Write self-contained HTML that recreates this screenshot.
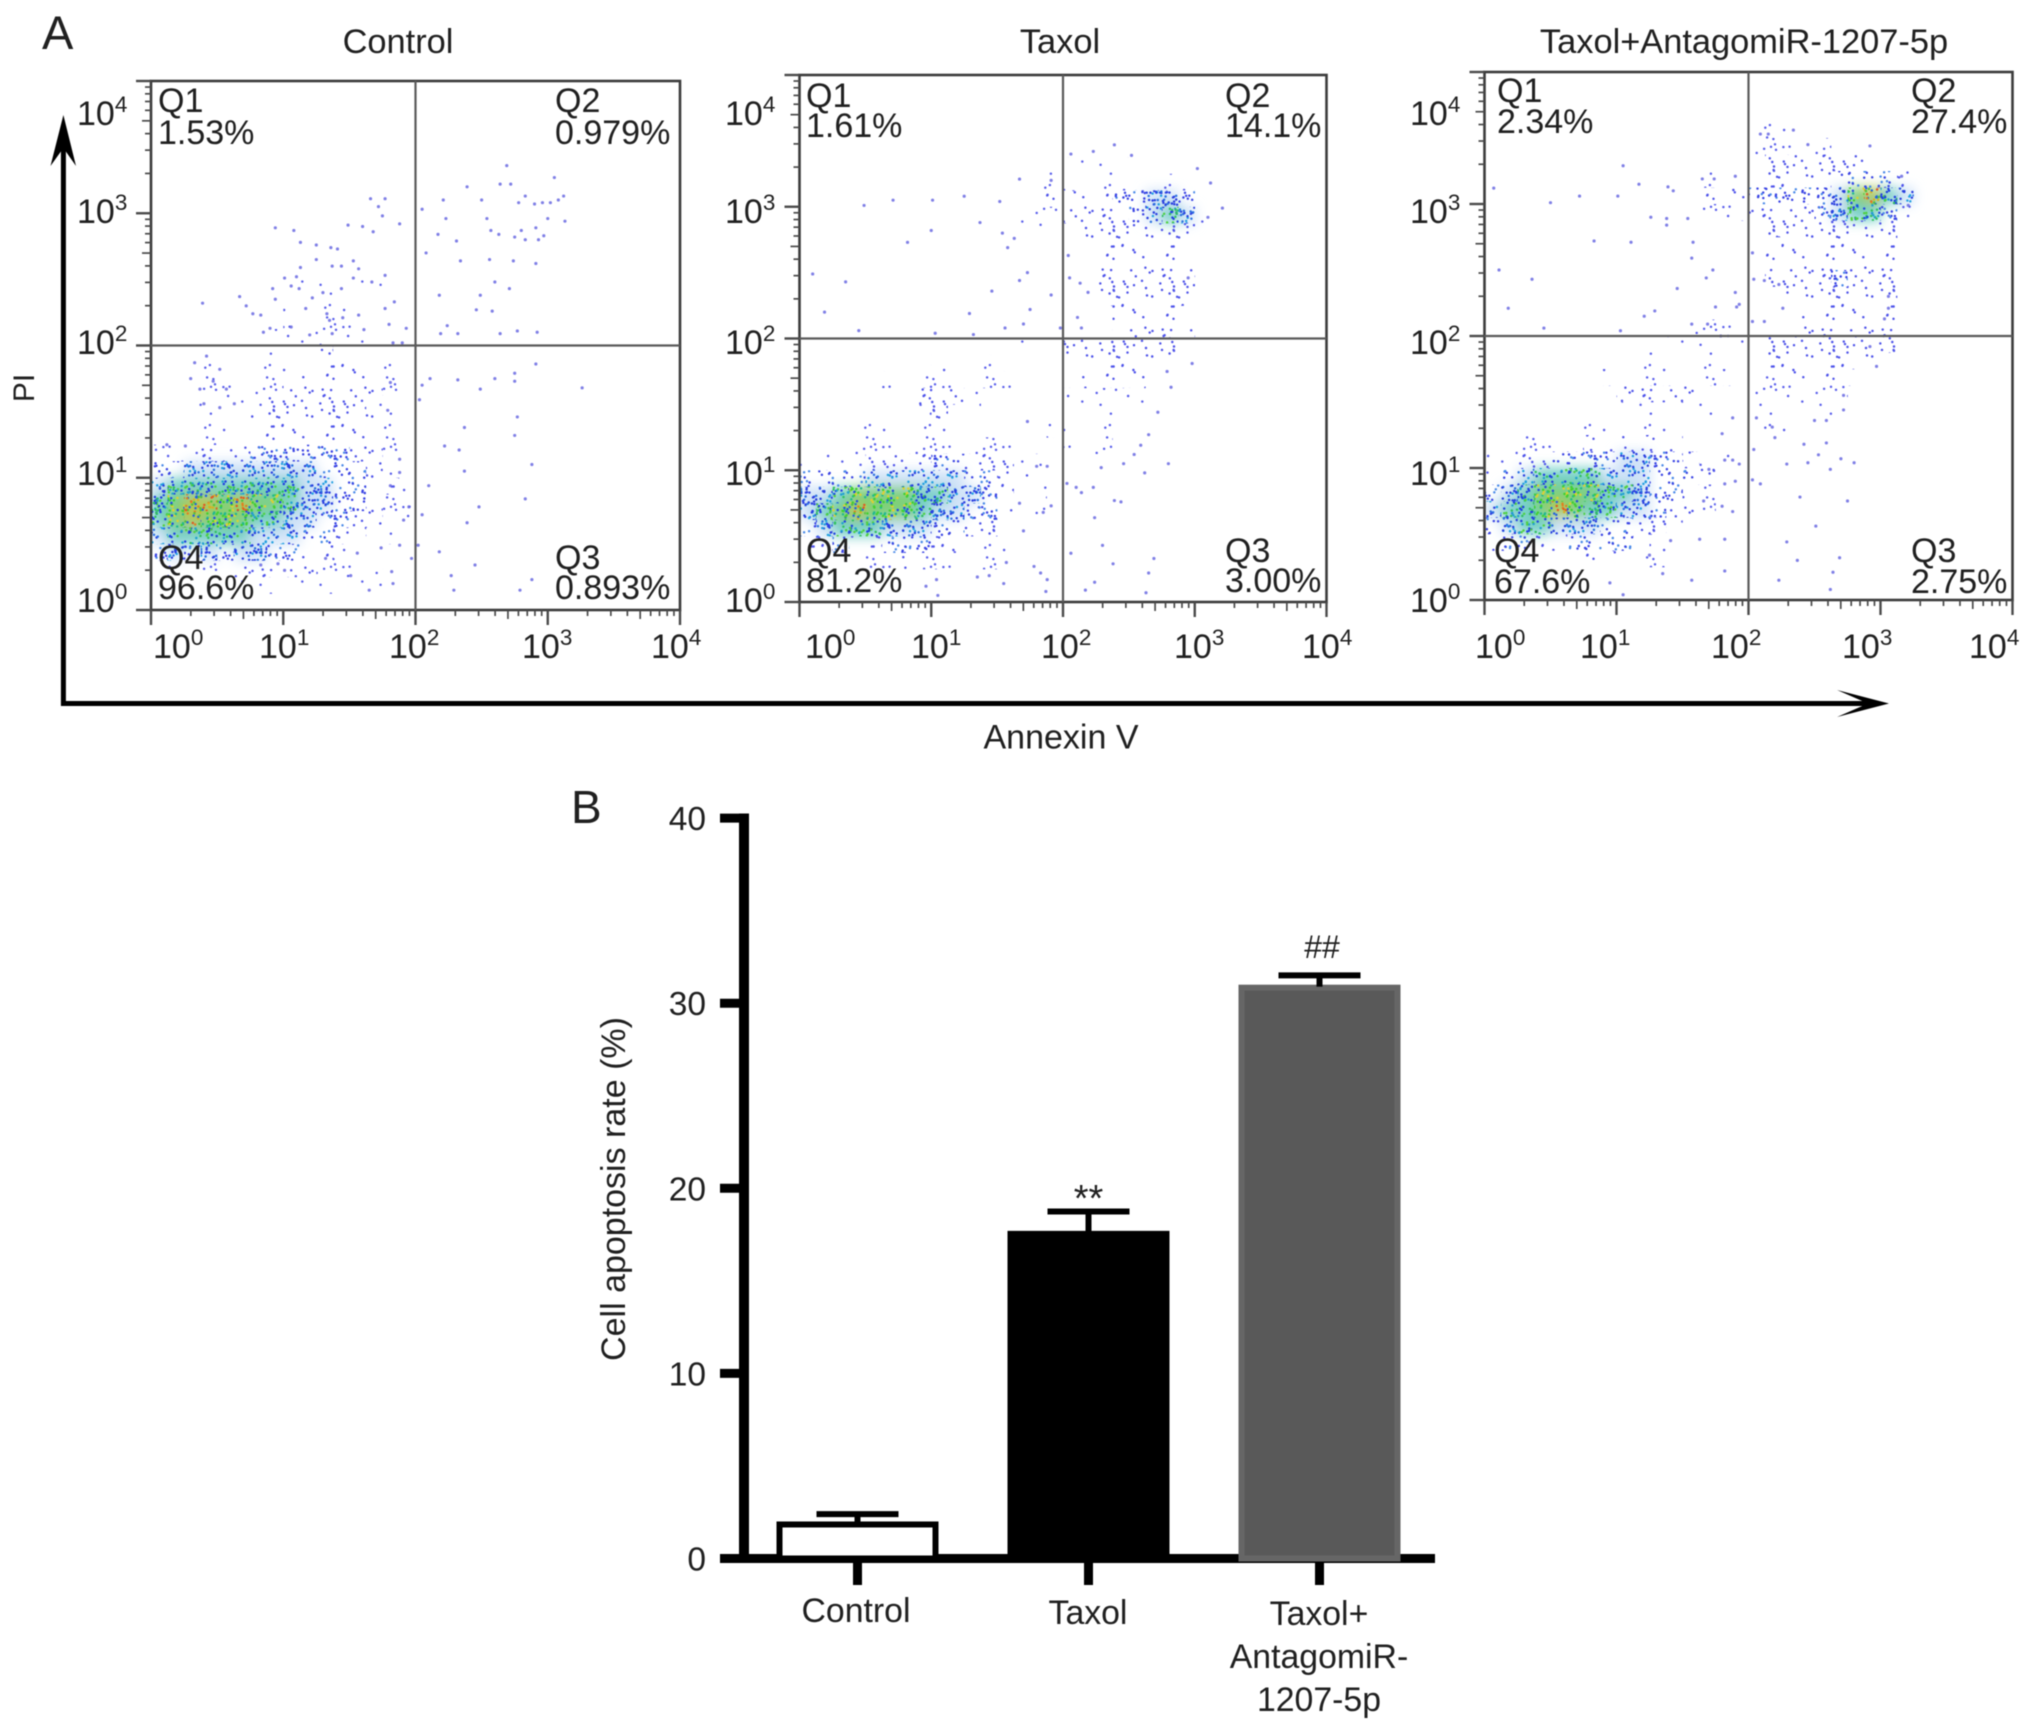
<!DOCTYPE html>
<html lang="en"><head><meta charset="utf-8"><title>Cell apoptosis flow cytometry and bar chart</title>
<style>
html,body{margin:0;padding:0;background:#fff}
svg{display:block;filter:blur(.55px)}
text{font-family:"Liberation Sans",Arial,sans-serif;fill:#202020}
</style></head><body>
<svg id="fig" xmlns="http://www.w3.org/2000/svg" width="2032" height="1729" viewBox="0 0 2032 1729">
<defs id="defs"></defs>
<rect width="2032" height="1729" fill="#fff"/>
<text x="42" y="49" font-size="47">A</text>
<text x="571" y="823" font-size="46">B</text>
<text x="398" y="53" font-size="34.4" text-anchor="middle">Control</text>
<text x="1060" y="53" font-size="34.4" text-anchor="middle">Taxol</text>
<text x="1744" y="53" font-size="34.4" text-anchor="middle">Taxol+AntagomiR-1207-5p</text>
<text transform="translate(34,388) rotate(-90)" font-size="30" text-anchor="middle">PI</text>
<text x="1061" y="748.5" font-size="34" text-anchor="middle">Annexin V</text>
<g id="plots"></g>
<g font-size="34">
<text x="158" y="112">Q1</text><text x="158" y="144">1.53%</text>
<text x="555" y="112">Q2</text><text x="555" y="144">0.979%</text>
<text x="158" y="569">Q4</text><text x="158" y="599">96.6%</text>
<text x="555" y="569">Q3</text><text x="555" y="599">0.893%</text>
</g>
<g font-size="34">
<text x="806" y="107">Q1</text><text x="806" y="137">1.61%</text>
<text x="1225" y="107">Q2</text><text x="1225" y="137">14.1%</text>
<text x="806" y="562">Q4</text><text x="806" y="592">81.2%</text>
<text x="1225" y="562">Q3</text><text x="1225" y="592">3.00%</text>
</g>
<g font-size="34">
<text x="1497" y="102">Q1</text><text x="1497" y="133">2.34%</text>
<text x="1911" y="102">Q2</text><text x="1911" y="133">27.4%</text>
<text x="1494" y="562">Q4</text><text x="1494" y="593">67.6%</text>
<text x="1911" y="562">Q3</text><text x="1911" y="593">2.75%</text>
</g>
<g>
<line x1="63.4" y1="706" x2="63.4" y2="135" stroke="#000" stroke-width="5"/>
<path d="M63.4 115 L76 166 L63.4 148 L50.5 166 Z" fill="#000"/>
</g>
<g>
<line x1="61" y1="703.5" x2="1872" y2="703.5" stroke="#000" stroke-width="5"/>
<path d="M1889 703.5 L1837 690 L1868 703.5 L1837 717 Z" fill="#000"/>
</g>
<g id="bars"></g>
<text transform="translate(625,1189) rotate(-90)" font-size="34" text-anchor="middle">Cell apoptosis rate (%)</text>
<text x="1088.5" y="1211" font-size="38" text-anchor="middle">**</text>
<text x="1322" y="958" font-size="32" text-anchor="middle">##</text>
<g font-size="33.8" text-anchor="middle">
<text x="856" y="1622">Control</text>
<text x="1088" y="1624">Taxol</text>
<text x="1319" y="1625">Taxol+</text>
<text x="1319" y="1668">AntagomiR-</text>
<text x="1319" y="1711">1207-5p</text>
</g>
</svg>
<script>
// ---------- Panel B data ----------
const barCategories = ['control', 'taxol', 'combination'];
const barMeans = [2.0, 17.7, 31.0];
const barUppers = [2.4, 18.75, 31.5];
const barTicks = [0, 10, 20, 30, 40];

// ---------- Panel A axis data ----------
const tickBase = '10';
const tickExponents = ['0', '1', '2', '3', '4'];
const gateDecade = 2;

// ---------- Individual sparse events (log10 Annexin V / log10 PI) ----------
const controlEventsX = [2.69,3.05,2.39,2.64,2.72,2.83,2.78,2.9,2.96,3.02,3.08,3.12,3.13,3,2.91,2.8,2.75,2.83,2.93,2.97,2.54,2.57,2.63,2.21,2.5,2.05,2.23,2.17,2.31,2.08,2.34,2.56,2.74,2.91,2.6,2.71,2.18,2.49,2.46,2.58,2.24,2.32,2.19,2.64,2.77,2.92,3.26,2.91,2.75,2.75,2.6,2.49,2.32,2.11,2.05,2.03,2.77,2.75,2.37,2.33,2.22,2.88,2.37,2.1,2.83,2.48,2.39,2.18,2.45,2.27,2.29,2.79,2.88,2.05,2.02,1.66,1.77,1.72,1.75,1.88,1.6,1.49,1.68,.94,1.08,1.13,1.36,1.41,1.25,1.25,1.13,1.37,1.44,1.53,1.57,1.01,1.1,1.53,1.67,1.77,1.06,1.12,.92,.94,1.22,1.3,1.44,1.84,1.77,.39,.67,.72,.77,.83,1.17,1.33,1.45,1.57,1.06,.9,1.35,1.37,1.61,1.8,1.93,.85,1.2,1.83,1.9,.33,.42,.52,.3,.47,.37,.57,.4,.52,.63,.26,.12,1.65,1.83,1.82,1.51,1.97,1.56,1.74,1.88,1.01,.83,.96,1.32,1.91,1.95,1.81,1.88,1.88,1.81,1.79];
const controlEventsY = [3.36,3.27,3.2,3.22,3.22,3.13,3.08,3.07,3.08,3.08,3.1,3.13,2.94,2.96,2.89,2.87,2.82,2.8,2.8,2.83,2.96,2.87,2.84,3.1,3.1,3.03,2.96,2.84,2.79,2.7,2.64,2.65,2.64,2.62,2.48,2.43,2.38,2.38,2.27,2.26,2.15,2.09,2.09,2.09,2.11,2.1,1.68,1.86,1.79,1.73,1.75,1.67,1.74,1.75,1.7,1.59,1.46,1.32,1.38,1.21,1.24,1.1,1.05,.94,.84,.78,.66,.44,.34,.26,.15,.15,.23,.72,.49,3.11,3.11,3.05,2.98,2.92,2.9,2.91,2.86,2.89,2.87,2.78,2.74,2.73,2.76,2.65,2.59,2.6,2.6,2.64,2.58,2.51,2.52,2.51,2.48,2.53,2.45,2.43,2.43,2.35,2.36,2.4,2.43,2.33,2.28,2.32,2.37,2.3,2.24,2.23,2.28,2.24,2.21,2.23,2.14,2.13,2.19,2.09,2.12,2.16,2.13,2.1,2.08,2.02,2.02,1.87,1.92,1.82,1.75,1.73,1.67,1.67,1.56,1.53,1.56,1.24,1.25,.15,.2,.29,.26,.39,.43,.47,.49,.3,.34,.35,.39,.68,.78,.94,1.14,1.04,1.72,1.51];

const taxolEventsX = [.1,.35,.19,.45,.49,.71,1.01,1.25,1.37,1,.82,1.52,1.67,1.91,1.54,1.58,1.63,1.73,1.67,1.46,1.29,1.03,1.32,1.75,1.7,1.56,1.91,1.98,2.06,2.23,2.39,2.52,3.02,3.12,3.21,3.1,2.04,2.05,2.13,2.19,2.11,2.14,2.95,2.98,2.79,2.82,2.72,2.65,2.59,2.54,2.8,2.62,2.46,2.29,2.23,2.03,2.1,2.14,2.39,2.44,2.24,2.3,2.06,2.38,2.69,2.65,2.24,2.17,2.63,1.04,.96,1.05,1.35,1.44,1.55,1.78,1.83,1.88,1.87,1.57,1.7,1.85,1.91,1.67,1.8,1.88,1.73];
const taxolEventsY = [2.49,2.43,2.2,2.06,3.01,3.05,3.05,3.08,2.88,2.82,2.73,3.04,3.21,3.2,2.8,2.69,2.76,2.5,2.44,2.36,2.19,2.04,2.03,2.22,2.11,2.08,2.33,2.08,3.4,3.42,3.47,3.39,3.29,3.18,2.99,2.92,2.63,2.46,2.42,2.35,2.16,2.08,2.46,1.81,1.75,1.63,1.44,1.27,1.19,1.12,1.05,.98,1.05,1.02,.87,.9,.87,.83,.77,.76,.64,.43,.37,.29,.33,.22,.15,.09,.07,.17,.12,.05,.19,.2,.14,.27,.22,.17,.08,.3,.54,.68,.73,.75,1.03,1.03,1.37];

const comboEventsX = [.07,.5,.72,1.01,1.05,1.17,1.26,.83,1.11,.11,.36,.18,.45,1.03,1.21,1.29,1.46,1.39,1.43,1.38,1.38,1.54,1.58,1.57,1.68,1.73,1.9,1.75,1.91,1.57,1.69,1.79,1.93,1.65,1.74,1.9,2.09,2.15,2.34,2.45,2.92,3.16,3.21,3.06,3.06,3.03,2.03,2.04,2.12,2.23,2.26,2.12,2.03,2.97,2.92,2.72,2.72,2.59,2.5,2.42,2.59,2.53,2.45,2.62,2.7,2.8,2.29,2.18,2.2,2.06,2.04,2.03,2.09,2.39,2.75,2.51,2.29,2.37,2.69,2.64,2.23,2.62,1.82,1.35,1.57,.95,1.05,1.25,1.82,1.63,1.41,1.88,1.8,1.66,1.82,1.9,1.82,1.88,1.93,1.8,1.88,1.7];
const comboEventsY = [3.12,3.01,3.06,3.06,3.29,3.15,2.9,2.72,2.71,2.5,2.43,2.21,2.06,2.04,2.15,2.19,2.36,3.13,3.1,2.89,2.84,2.89,2.71,2.59,2.44,2.5,2.33,2.22,2.22,2.09,2.09,2,2.24,3.19,3.19,3.21,3.53,3.53,3.56,3.45,3.44,3.21,2.99,2.3,2.21,2.13,2.63,2.43,2.42,2.39,2.21,2.11,2.11,1.77,1.92,1.55,1.44,1.36,1.36,1.18,1.19,1.1,1.04,.99,1.07,1.04,1.03,1.31,1.23,1.38,1.14,.91,.88,.78,.75,.56,.44,.3,.32,.21,.15,.08,.22,.2,.15,.13,.04,.34,.46,.46,.45,.67,.71,.75,.88,.9,1.06,1.06,1.03,1.26,1.38,.99];

// ---------- Density levels: rows top-to-bottom, columns left-to-right (32 x 32 bins over 4 decades) ----------
const controlDensity = [[],[],[],[],[],[],[],[],[],[],[],[],
[0,0,0,0,0,0,0,0,0,1,1,1,1,1],
[0,0,0,0,0,0,0,0,1,1,1,1,1,1],
[0,0,0,0,0,0,0,0,1,1,1,1,1],
[0,0,0,0,0,0,0,1,1,1,1,1,1],
[0,0,0,0,0,1,1,1,1,1,2,1,1,1],
[0,0,0,1,0,1,1,1,1,2,2,2,2,1,1],
[0,0,0,1,1,1,1,1,2,2,2,2,2,2,1],
[0,0,1,1,1,1,1,2,2,2,2,2,2,1,1],
[0,0,1,1,1,1,2,2,2,2,2,2,2,2,1],
[0,1,1,1,1,1,2,2,2,2,2,2,2,2,1],
[1,1,1,2,2,2,3,3,3,3,3,3,2,2,1],
[3,3,4,4,4,4,4,4,4,4,3,3,3,2,1,1],
[4,5,5,5,5,5,5,5,5,4,4,3,3,2,2,1],
[5,6,7,7,6,7,6,6,5,4,4,3,3,2,1,1],
[5,6,7,6,6,6,5,5,4,4,3,3,2,2,1,1],
[4,5,5,5,5,5,4,4,4,3,3,2,2,1,1],
[3,4,3,4,3,4,4,3,3,2,2,1,1,1],
[0,1,0,1,0,2,2,2,2,2,1,1,1,1],
[0,0,0,0,0,1,1,1,1,1,1,0,1,1],
[]];

const taxolDensity = [[],[],[],[],[],
[0,0,0,0,0,0,0,0,0,0,0,0,0,0,0,1,1,1,1,1],
[0,0,0,0,0,0,0,0,0,0,0,0,0,0,1,1,1,1,1,1,1,1,1,1,1],
[0,0,0,0,0,0,0,0,0,0,0,0,0,1,2,2,2,2,2,3,3,4,4,3,1],
[0,0,0,0,0,0,0,0,0,0,0,0,0,1,1,1,2,2,2,2,3,4,5,4,1],
[0,0,0,0,0,0,0,0,0,0,0,0,1,1,1,0,0,2,2,2,2,2,2,2],
[0,0,0,0,0,0,0,0,0,0,0,0,0,0,0,0,0,0,2,2,2,2,2],
[0,0,0,0,0,0,0,0,0,0,0,0,0,0,0,0,0,0,2,2,2,2,2,2],
[0,0,0,0,0,0,0,0,0,0,0,0,0,0,0,0,0,0,2,2,2,2,2,2],
[0,0,0,0,0,0,0,0,0,0,0,0,0,0,0,0,0,0,2,2,2,2,2,2],
[0,0,0,0,0,0,0,0,0,0,0,0,0,0,0,0,0,0,0,2,2,2,2],
[0,0,0,0,0,0,0,0,0,0,0,0,0,0,0,0,0,0,0,2,2,2,2,2],
[0,0,0,0,0,0,0,0,0,0,0,0,1,1,0,0,2,2,2,2,2,2,2],
[0,0,0,0,0,0,0,0,1,1,1,1,0,0,0,0,0,2,2,2,2,2],
[0,0,0,0,0,1,1,1,1,1,1,1,1,0,0,0,0,2,2,2,2],
[0,0,0,0,0,0,0,2,2,2,1,0,0,0,0,0,1,1,1,1,1],
[0,0,0,0,0,0,1,1,2,1,1,0,1,1,0,0,1,1,1,1],
[0,0,0,1,1,1,1,1,1,1,1,0,0,0,0,1,1,1,1],
[0,0,1,1,1,1,1,1,1,1,1,1,1,0,0,0,1,1,1],
[1,1,1,1,2,2,2,2,3,3,2,2,2,1,1],
[3,3,3,3,4,4,4,4,4,4,3,3,2,2,1],
[4,4,5,6,6,6,6,5,5,4,4,3,2,1,1],
[4,5,6,7,6,6,6,5,4,4,3,3,2,1,1],
[3,4,5,5,5,4,4,4,3,3,2,2,1],
[2,2,3,2,2,3,3,3,2,2,1,1,1],
[0,0,0,0,1,1,2,1,1,1,1,1],
[],[]];

const comboDensity = [[],[],[],
[0,0,0,0,0,0,0,0,0,0,0,0,0,0,0,0,1,1,1,1],
[0,0,0,0,0,0,0,0,0,0,0,0,0,0,0,0,1,1,1,1,1],
[0,0,0,0,0,0,0,0,0,0,0,0,0,0,0,0,0,2,2,2,2,2,2],
[0,0,0,0,0,0,0,0,0,0,0,0,0,1,1,1,0,2,2,2,2,3,3,3,3,2],
[0,0,0,0,0,0,0,0,0,0,0,1,1,2,2,2,3,3,3,3,3,4,6,7,5,4],
[0,0,0,0,0,0,0,0,0,0,0,0,0,1,1,1,2,2,2,2,3,4,5,5,3,1],
[0,0,0,0,0,0,0,0,0,0,0,0,0,0,0,0,0,2,2,2,2,2,2,2,2],
[0,0,0,0,0,0,0,0,0,0,0,0,0,0,0,0,0,0,2,2,2,2,2,2,2],
[0,0,0,0,0,0,0,0,0,0,0,0,0,0,0,0,0,2,2,2,2,2,2,2,2],
[0,0,0,0,0,0,0,0,0,0,0,0,0,0,0,0,0,2,2,2,2,3,2,2,2],
[0,0,0,0,0,0,0,0,0,0,0,0,0,0,0,0,0,0,2,2,2,2,2,2,2],
[0,0,0,0,0,0,0,0,0,0,0,0,0,0,0,0,0,0,0,2,2,2,2,2,2],
[0,0,0,0,0,0,0,0,0,0,0,0,1,1,1,1,0,0,0,2,2,2,2,2,2],
[0,0,0,0,0,0,0,0,0,0,0,1,1,1,1,1,0,2,2,2,2,2,2,2,2],
[0,0,0,0,0,0,0,0,0,1,1,1,1,1,0,0,0,2,2,2,2,2,2,2],
[0,0,0,0,0,0,0,1,1,1,1,1,1,1,1,0,0,1,2,2,2,2,1],
[0,0,0,0,0,0,0,0,2,2,2,2,2,0,0,0,1,1,1,1,1,1],
[0,0,0,0,0,0,0,1,1,1,1,1,1,1,0,0,1,1,1,1,1,1],
[0,0,0,0,0,1,1,1,1,1,1,1,0,0,0,0,1,1,1],
[0,0,1,1,1,1,2,2,2,2,2,2,1],
[1,1,2,2,3,3,3,3,4,4,3,3,2,1,1],
[2,3,4,5,5,5,5,4,4,4,3,3,3,2,1],
[3,4,5,6,6,6,6,5,5,4,3,3,2,1],
[4,5,5,6,7,6,5,5,4,4,3,2,2,1],
[3,4,5,5,4,4,4,3,3,2,2,1],
[2,3,3,2,2,3,3,3,3,2,1,1],
[0,0,0,0,0,1,2,2,1,1,1],
[],[]];

// ---------- Layout and rendering ----------
const NS = 'http://www.w3.org/2000/svg';
const svg = document.getElementById('fig');
const defs = document.getElementById('defs');
const plots = document.getElementById('plots');
const bars = document.getElementById('bars');
function mk(tag, attrs, parent) {
  const n = document.createElementNS(NS, tag);
  for (const k in attrs) n.setAttribute(k, attrs[k]);
  parent.appendChild(n);
  return n;
}
// Speckle texture used to shade density cells (fixed tile, not data)
const T = 60;
function tex(k, s) {
  const v = Math.sin(k * 12.9898 + s * 78.233) * 43758.5453;
  return v - Math.floor(v);
}
const levelDotCount = [0, 16, 38, 100, 190, 230, 230, 240];
const levelWash = ['none', 'none', 'none', 'none', '#cfe2f8', '#74d0c8', '#7fd07a', '#b8c850'];
const levelDotColors = [[], ['#5a5fec'], ['#4f54ea'], ['#3a44e4', '#3a44e4', '#4a8ae8'], ['#2a3fe0', '#2a3fe0', '#2a70e0', '#22a0e0'], ['#1f40e0', '#1f40e0', '#30c060', '#20a0d0', '#50d040'], ['#1f4ae0', '#20b890', '#40d030', '#e0d030', '#40d030'], ['#e08020', '#d8b020', '#50c040', '#e05a20', '#2060e0']];
for (let lv = 1; lv < 8; lv++) {
  const pat = mk('pattern', {id: 'lv' + lv, width: T, height: T, patternUnits: 'userSpaceOnUse'}, defs);
  for (let k = 0; k < levelDotCount[lv]; k++) {
    const cols = levelDotColors[lv];
    mk('rect', {x: (tex(k + 1, lv) * (T - 3)).toFixed(1), y: (tex(k + 1, lv + 17) * (T - 3)).toFixed(1), width: 2.4, height: 2.4, rx: 1, fill: cols[k % cols.length]}, pat);
  }
}
const wash = mk('filter', {id: 'washBlur', x: '-20%', y: '-20%', width: '140%', height: '140%'}, defs);
mk('feGaussianBlur', {stdDeviation: 6}, wash);

const panels = [
  {key: 'control', x0: 151, y0: 81, size: 529, evX: controlEventsX, evY: controlEventsY, density: controlDensity, xLabelStart: [153, 259, 389, 522, 651], yLabelStart: 77},
  {key: 'taxol', x0: 799.5, y0: 75, size: 527, evX: taxolEventsX, evY: taxolEventsY, density: taxolDensity, xLabelStart: [805, 911, 1041, 1174, 1302], yLabelStart: 725},
  {key: 'combination', x0: 1484.5, y0: 72, size: 528, evX: comboEventsX, evY: comboEventsY, density: comboDensity, xLabelStart: [1475, 1580, 1711, 1842, 1969], yLabelStart: 1410}
];
const yLabelBaselines = [612, 485, 354, 223, 125];
const xLabelBaseline = 658;

panels.forEach(function (p) {
  const xs = d => p.x0 + d / 4 * p.size;
  const ys = d => p.y0 + p.size - d / 4 * p.size;
  const g = mk('g', {}, plots);
  
  
  const clip = mk('clipPath', {id: 'clip-' + p.key}, defs);
  mk('rect', {x: p.x0, y: p.y0, width: p.size, height: p.size}, clip);
  const cells = mk('g', {'clip-path': 'url(#clip-' + p.key + ')'}, g);
  
  
  const washG = mk('g', {filter: 'url(#washBlur)'}, cells);
  const binW = p.size / 32;
  p.density.forEach(function (row, r) {
    row.forEach(function (v, c) {
      if (!v) return;
      const bx = xs(c / 8), by = ys(4 - r / 8);
      if (levelWash[v] !== 'none') {
        const w = mk('rect', {x: bx, y: by, width: binW + .5, height: binW + .5, fill: levelWash[v]}, washG);
        
        
      }
      const cell = mk('rect', {x: bx, y: by, width: binW + .3, height: binW + .3, fill: 'url(#lv' + v + ')'}, cells);
      
      
    });
  });
  const evG = mk('g', {fill: '#6a6ae2', 'fill-opacity': .85}, g);
  
  
  p.evX.forEach(function (x, i) {
    const dot = mk('circle', {cx: xs(x), cy: ys(p.evY[i]), r: 1.6}, evG);
    
    
  });
  // frame + gates
  const frame = mk('rect', {x: p.x0, y: p.y0, width: p.size, height: p.size, fill: 'none', stroke: '#3c3c3c', 'stroke-width': 2.6}, g);
  
  
  const vg = mk('line', {x1: xs(gateDecade), x2: xs(gateDecade), y1: p.y0, y2: p.y0 + p.size, stroke: '#5a5a5a', 'stroke-width': 2.2}, g);
  
  
  const hg = mk('line', {x1: p.x0, x2: p.x0 + p.size, y1: ys(gateDecade), y2: ys(gateDecade), stroke: '#5a5a5a', 'stroke-width': 2.2}, g);
  
  
  // log ticks
  const tg = mk('g', {stroke: '#4a4a4a'}, g);
  
  
  tickExponents.forEach(function (e, i) {
    const dec = +e;
    mk('line', {x1: xs(dec), x2: xs(dec), y1: p.y0 + p.size, y2: p.y0 + p.size + 15, 'stroke-width': 2.4}, tg);
    mk('line', {y1: ys(dec), y2: ys(dec), x1: p.x0, x2: p.x0 - 15, 'stroke-width': 2.4}, tg);
    if (dec < 4) {
      for (let m = 2; m < 10; m++) {
        const d = dec + Math.log10(m), len = m === 5 ? 9 : 6;
        mk('line', {x1: xs(d), x2: xs(d), y1: p.y0 + p.size, y2: p.y0 + p.size + len, 'stroke-width': 1.7}, tg);
        mk('line', {y1: ys(d), y2: ys(d), x1: p.x0, x2: p.x0 - len, 'stroke-width': 1.7}, tg);
      }
    }
    const xl = mk('text', {x: p.xLabelStart[i], y: xLabelBaseline, 'font-size': 34}, g);
    
    
    xl.textContent = tickBase;
    const xs1 = mk('tspan', {dy: -13, 'font-size': 22.5}, xl);
    xs1.textContent = e;
    const yl = mk('text', {x: p.yLabelStart, y: yLabelBaselines[i], 'font-size': 34}, g);
    
    
    yl.textContent = tickBase;
    const ys1 = mk('tspan', {dy: -13, 'font-size': 22.5}, yl);
    ys1.textContent = e;
  });
});

// ---------- Bar chart ----------
const barY = v => 1558.5 - v * 18.51;
const barX = i => 857.5 + i * 231;
const barWidth = 162;
const barFill = ['#ffffff', '#000000', '#595959'];
const barStroke = ['#000000', '#000000', '#666666'];
const axisG = mk('g', {stroke: '#000'}, bars);


barCategories.forEach(function (c, i) {
  const cx = barX(i);
  const top = barY(barMeans[i]);
  const r = mk('rect', {x: cx - barWidth / 2 + 3, y: top + 3, width: barWidth - 6, height: 1558.5 - top - 3, fill: barFill[i], stroke: barStroke[i], 'stroke-width': 6}, bars);
  
  
  const er = mk('g', {stroke: '#000'}, bars);
  
  
  mk('line', {x1: cx, x2: cx, y1: top + 2, y2: barY(barUppers[i]), 'stroke-width': 6}, er);
  mk('line', {x1: cx - 41, x2: cx + 41, y1: barY(barUppers[i]), y2: barY(barUppers[i]), 'stroke-width': 6}, er);
  mk('line', {x1: cx, x2: cx, y1: 1558.5, y2: 1585, 'stroke-width': 9}, axisG);
});
mk('line', {x1: 744, x2: 744, y1: 813.5, y2: 1563, 'stroke-width': 10}, axisG);
mk('line', {x1: 720, x2: 1435, y1: 1558.5, y2: 1558.5, 'stroke-width': 9}, axisG);
barTicks.forEach(function (v) {
  const y = barY(v);
  mk('line', {x1: 720, x2: 744, y1: y, y2: y, 'stroke-width': 9}, axisG);
  const t = mk('text', {x: 706, y: y + 12, 'font-size': 33.5, 'text-anchor': 'end'}, bars);
  
  
  t.textContent = String(v);
});
</script>
</body></html>
